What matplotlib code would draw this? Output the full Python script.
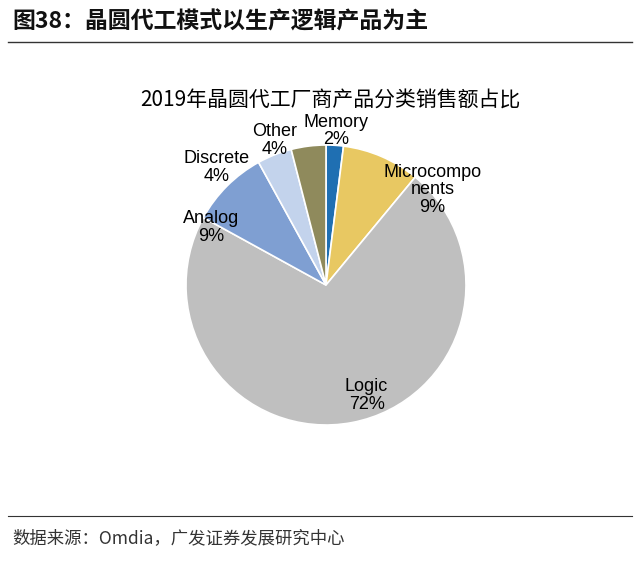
import matplotlib
matplotlib.use('Agg')
import matplotlib.pyplot as plt
from matplotlib.lines import Line2D

plt.rcParams['font.family'] = ['Noto Sans CJK SC', 'DejaVu Sans']

# data
categories = ['Memory', 'Microcompo\nnents', 'Logic', 'Analog', 'Discrete', 'Other']
shares = [2, 9, 72, 9, 4, 4]
colors = ['#1f6fb2', '#e8c862', '#bfbfbf', '#7f9fd2', '#c3d3ec', '#8f8a5c']
# label positions in pie units (radius 1)
label_pos = [(0.07, 1.10), (0.76, 0.68), (0.29, -0.79), (-0.82, 0.41), (-0.78, 0.84), (-0.37, 1.03)]

W, H = 640, 564
fig = plt.figure(figsize=(W / 100, H / 100), dpi=100)

cx, cy, r = 326, 285, 140
ax = fig.add_axes([(cx - r) / W, (H - cy - r) / H, 2 * r / W, 2 * r / H])
ax.pie(shares, colors=colors, startangle=90, counterclock=False,
       wedgeprops=dict(edgecolor='white', linewidth=1.2))
ax.set_xlim(-1, 1); ax.set_ylim(-1, 1)
ax.set_aspect('equal')
for name, v, (x, y) in zip(categories, shares, label_pos):
    ax.text(x, y, f'{name}\n{v}%', ha='center', va='center', fontsize=13,
            family=['Liberation Sans', 'DejaVu Sans'], linespacing=1.05, clip_on=False)

fig.text(12 / W, 1 - 22 / H, '图38：晶圆代工模式以生产逻辑产品为主', fontsize=16.5,
         fontweight='bold', color='#111111', va='center')
fig.add_artist(Line2D([8 / W, 632 / W], [1 - 42 / H] * 2, color='#333333', lw=1))
fig.text(330 / W, 1 - 100 / H, '2019年晶圆代工厂商产品分类销售额占比', fontsize=15,
         ha='center', va='center', color='black')
fig.add_artist(Line2D([8 / W, 632 / W], [1 - 516 / H] * 2, color='#333333', lw=0.8))
fig.text(12 / W, 1 - 538 / H, '数据来源：Omdia，广发证券发展研究中心', fontsize=12.5,
         va='center', color='#333333')

fig.savefig('out.png', dpi=100)
